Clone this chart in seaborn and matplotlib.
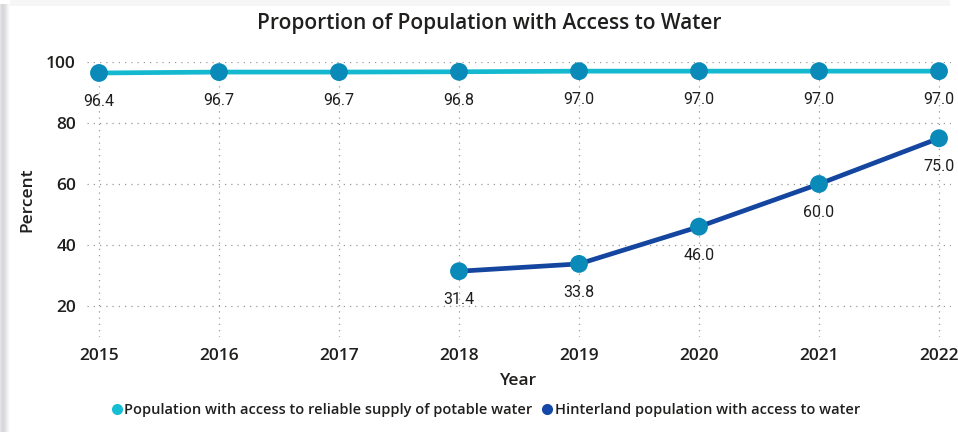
import matplotlib
matplotlib.use("Agg")
import matplotlib.pyplot as plt
from matplotlib.patches import Rectangle
from matplotlib.lines import Line2D
import seaborn as sns
import pandas as pd

# --- data -------------------------------------------------------------
years = [2015, 2016, 2017, 2018, 2019, 2020, 2021, 2022]
potable = [96.4, 96.7, 96.7, 96.8, 97.0, 97.0, 97.0, 97.0]
hinterland_years = [2018, 2019, 2020, 2021, 2022]
hinterland = [31.4, 33.8, 46.0, 60.0, 75.0]
y_ticks = [20, 40, 60, 80, 100]

series_potable = "Population with access to reliable supply of potable water"
series_hinter = "Hinterland population with access to water"

df = pd.concat([
    pd.DataFrame({"Year": years, "Percent": potable, "Series": series_potable}),
    pd.DataFrame({"Year": hinterland_years, "Percent": hinterland, "Series": series_hinter}),
], ignore_index=True)

# --- style ------------------------------------------------------------
sns.set_theme(style="white")
plt.rcParams["font.family"] = ["Open Sans", "DejaVu Sans"]

TEXT = "#201f1e"
CYAN = "#14B9D0"
NAVY = "#1446A0"
MARKER = "#0A8AB8"
GRID = "#9a9a9a"
WEIGHT = "semibold"

W, H = 958, 432
fig = plt.figure(figsize=(W / 100, H / 100), dpi=100)
fig.patch.set_facecolor("white")

# card edge shading (left shadow and faint top strip)
fig.add_artist(Rectangle((10 / W, 1 - 6 / H), 940 / W, 6 / H,
                         transform=fig.transFigure, facecolor="#f6f6f6",
                         edgecolor="none", zorder=0))
shade = ["#e4e4e6", "#dcdcde", "#d8d8da", "#d9d9db", "#dcdcde",
         "#e2e2e4", "#e9e9eb", "#f0f0f2", "#f6f6f7", "#fbfbfb"]
for i, c in enumerate(shade):
    fig.add_artist(Rectangle((i / W, 0), 1 / W, 1 - 4 / H,
                             transform=fig.transFigure, facecolor=c,
                             edgecolor="none", zorder=0))

ax = fig.add_axes([87 / W, 1 - 336.5 / H, 864 / W, 274.5 / H])
ax.set_facecolor("none")

palette = {series_potable: CYAN, series_hinter: NAVY}
sns.lineplot(data=df, x="Year", y="Percent", hue="Series", palette=palette,
             linewidth=3.4, legend=False, ax=ax, zorder=3)
sns.scatterplot(data=df, x="Year", y="Percent", color=MARKER, s=165,
                edgecolor="none", legend=False, ax=ax, zorder=4)

# value labels under each point
for x, y in zip(df["Year"], df["Percent"]):
    ax.annotate(f"{y:.1f}", (x, y), xytext=(0, -20.5), textcoords="offset points",
                ha="center", va="center", fontsize=11.5, color="#1f1e1d",
                family=["Roboto", "DejaVu Sans"], zorder=5)

ax.set_xlim(2014.9, 2022.1)
ax.set_ylim(10, 100)
ax.set_xticks(years)
ax.set_yticks(y_ticks)
ax.set_xticklabels([str(y) for y in years])
ax.tick_params(axis="both", length=0, labelsize=12.5, labelcolor=TEXT)
ax.tick_params(axis="x", pad=8)
ax.tick_params(axis="y", pad=8)
for lab in ax.get_xticklabels() + ax.get_yticklabels():
    lab.set_fontweight(WEIGHT)

ax.grid(True, axis="both", color=GRID, linestyle=(0, (1, 4)), linewidth=0.9)
for s in ax.spines.values():
    s.set_visible(False)

ax.set_xlabel("Year", fontsize=12.5, fontweight=WEIGHT, color=TEXT, labelpad=7)
ax.set_ylabel("Percent", fontsize=12.5, fontweight=WEIGHT, color=TEXT, labelpad=8)

fig.text(489 / W, 1 - 23 / H, "Proportion of Population with Access to Water",
         ha="center", va="center", fontsize=15, fontweight=WEIGHT, color=TEXT)

handles = [
    Line2D([], [], marker="o", linestyle="none", markersize=8,
           markerfacecolor="#16BED4", markeredgecolor="none", label=series_potable),
    Line2D([], [], marker="o", linestyle="none", markersize=8,
           markerfacecolor="#1447A6", markeredgecolor="none", label=series_hinter),
]
leg = fig.legend(handles=handles, loc="center", bbox_to_anchor=(485 / W, 1 - 410 / H),
                 ncol=2, frameon=False, fontsize=10.5, handletextpad=0.05,
                 columnspacing=0.6, handlelength=0.9, borderpad=0)
for t in leg.get_texts():
    t.set_color(TEXT)
    t.set_fontweight(WEIGHT)

fig.savefig("out.png", dpi=100, facecolor="white")
